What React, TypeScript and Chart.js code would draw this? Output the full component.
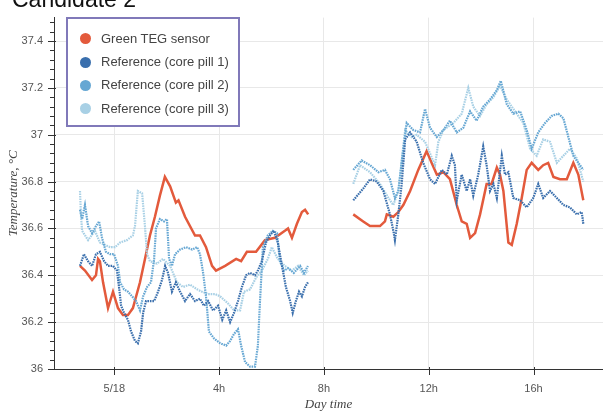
import React, { useEffect, useRef } from "react";
import { Chart, registerables } from "chart.js";

Chart.register(...registerables);

// ---- data (hours relative to 5/18 00:00, temperature °C) ----
const seriesNames = [
  "Green TEG sensor",
  "Reference (core pill 1)",
  "Reference (core pill 2)",
  "Reference (core pill 3)",
];
const seriesColors = ["#e35a3c", "#3a6fad", "#66a7d3", "#a8d0e5"];

const xTickHours = [0, 4, 8, 12, 16];
const yTickValues = [36, 36.2, 36.4, 36.6, 36.8, 37, 37.2, 37.4];

const tegSeg1: [number, number][] = [
  [-1.31, 36.44], [-1.12, 36.42], [-0.85, 36.38], [-0.7, 36.4], [-0.62, 36.47], [-0.55, 36.46],
  [-0.43, 36.37], [-0.24, 36.26], [-0.05, 36.33], [0.14, 36.26], [0.33, 36.23], [0.52, 36.23],
  [0.71, 36.26], [0.98, 36.37], [1.17, 36.47], [1.36, 36.57], [1.55, 36.65], [1.74, 36.74],
  [1.93, 36.82], [2.13, 36.78], [2.35, 36.71], [2.45, 36.72], [2.7, 36.65], [3.08, 36.57],
  [3.27, 36.57], [3.5, 36.52], [3.73, 36.44], [3.88, 36.42], [4.23, 36.44], [4.65, 36.47],
  [4.84, 36.46], [5.06, 36.5], [5.41, 36.5], [5.75, 36.55], [6.13, 36.56], [6.51, 36.59],
  [6.63, 36.6], [6.78, 36.56], [6.97, 36.62], [7.16, 36.67], [7.28, 36.68], [7.4, 36.66],
];
const tegSeg2: [number, number][] = [
  [9.12, 36.66], [9.5, 36.63], [9.76, 36.61], [10.14, 36.61], [10.33, 36.63], [10.4, 36.66],
  [10.65, 36.65], [10.84, 36.67], [11.03, 36.7], [11.29, 36.76], [11.6, 36.85], [11.92, 36.93],
  [12.11, 36.88], [12.31, 36.83], [12.56, 36.84], [12.81, 36.81], [13.07, 36.7], [13.26, 36.63],
  [13.45, 36.62], [13.58, 36.56], [13.77, 36.58], [13.96, 36.66], [14.21, 36.79], [14.4, 36.79],
  [14.6, 36.86], [14.72, 36.83], [14.85, 36.76], [15.04, 36.54], [15.17, 36.53], [15.36, 36.62],
  [15.55, 36.73], [15.74, 36.85], [15.93, 36.88], [16.18, 36.85], [16.37, 36.87], [16.56, 36.88],
  [16.76, 36.82], [17.01, 36.81], [17.27, 36.81], [17.52, 36.88], [17.71, 36.83], [17.9, 36.72],
];

const pill1Seg1: [number, number][] = [
  [-1.31, 36.44], [-1.16, 36.49], [-1.0, 36.46], [-0.85, 36.44], [-0.7, 36.49], [-0.55, 36.5],
  [-0.39, 36.46], [-0.24, 36.44], [-0.05, 36.44], [0.1, 36.42], [0.18, 36.35], [0.26, 36.27],
  [0.37, 36.24], [0.52, 36.21], [0.64, 36.16], [0.79, 36.12], [0.9, 36.11], [1.02, 36.16],
  [1.1, 36.24], [1.21, 36.29], [1.36, 36.29], [1.52, 36.29], [1.67, 36.33], [1.82, 36.38],
  [1.94, 36.44], [2.05, 36.41], [2.2, 36.33], [2.35, 36.37], [2.51, 36.33], [2.7, 36.29],
  [2.89, 36.32], [3.08, 36.29], [3.27, 36.3], [3.42, 36.27], [3.58, 36.29], [3.77, 36.25],
  [3.96, 36.27], [4.12, 36.21], [4.27, 36.25], [4.42, 36.2], [4.57, 36.24], [4.72, 36.29],
  [4.87, 36.35], [5.03, 36.4], [5.18, 36.41], [5.37, 36.4], [5.48, 36.42], [5.63, 36.46],
  [5.79, 36.54], [5.94, 36.57], [6.09, 36.59], [6.24, 36.54], [6.4, 36.44], [6.55, 36.35],
  [6.71, 36.29], [6.81, 36.24], [6.93, 36.29], [7.05, 36.33], [7.16, 36.31], [7.28, 36.35],
  [7.39, 36.37],
];
const pill1Seg2: [number, number][] = [
  [9.12, 36.72], [9.5, 36.77], [9.76, 36.81], [10.02, 36.8], [10.27, 36.76], [10.52, 36.66],
  [10.65, 36.59], [10.71, 36.55], [10.84, 36.66], [10.97, 36.79], [11.1, 36.98], [11.29, 37.01],
  [11.54, 36.97], [11.79, 36.88], [12.05, 36.81], [12.24, 36.79], [12.5, 36.85], [12.69, 36.83],
  [12.88, 36.91], [13.0, 36.87], [13.07, 36.72], [13.26, 36.83], [13.45, 36.76], [13.58, 36.81],
  [13.7, 36.74], [13.89, 36.83], [14.08, 36.95], [14.21, 36.87], [14.34, 36.76], [14.47, 36.79],
  [14.6, 36.73], [14.79, 36.91], [14.91, 36.83], [15.04, 36.84], [15.23, 36.73], [15.49, 36.72],
  [15.74, 36.69], [15.99, 36.73], [16.18, 36.79], [16.37, 36.73], [16.63, 36.76], [16.89, 36.73],
  [17.14, 36.7], [17.39, 36.69], [17.65, 36.66], [17.84, 36.67], [17.9, 36.62],
];

const pill2Seg1: [number, number][] = [
  [-1.31, 36.68], [-1.23, 36.64], [-1.12, 36.7], [-1.0, 36.61], [-0.85, 36.58], [-0.7, 36.61],
  [-0.58, 36.63], [-0.47, 36.56], [-0.32, 36.5], [-0.16, 36.49], [-0.01, 36.49], [0.14, 36.44],
  [0.22, 36.37], [0.37, 36.34], [0.52, 36.33], [0.68, 36.31], [0.83, 36.29], [0.98, 36.25],
  [1.1, 36.31], [1.25, 36.35], [1.4, 36.37], [1.52, 36.47], [1.59, 36.6], [1.74, 36.64],
  [1.9, 36.63], [2.01, 36.64], [2.09, 36.47], [2.2, 36.44], [2.32, 36.49], [2.51, 36.51],
  [2.74, 36.52], [2.97, 36.51], [3.16, 36.52], [3.27, 36.49], [3.39, 36.41], [3.5, 36.31],
  [3.61, 36.16], [3.81, 36.13], [4.04, 36.11], [4.27, 36.1], [4.42, 36.12], [4.57, 36.15],
  [4.72, 36.17], [4.84, 36.1], [4.99, 36.03], [5.18, 36.01], [5.37, 36.01], [5.48, 36.1],
  [5.56, 36.29], [5.67, 36.52], [5.86, 36.57], [6.05, 36.59], [6.21, 36.58], [6.32, 36.46],
  [6.48, 36.42], [6.63, 36.43], [6.85, 36.41], [7.09, 36.44], [7.24, 36.41], [7.39, 36.44],
];
const pill2Seg2: [number, number][] = [
  [9.12, 36.85], [9.44, 36.89], [9.76, 36.87], [10.08, 36.84], [10.33, 36.85], [10.52, 36.81],
  [10.71, 36.73], [10.84, 36.76], [11.03, 36.94], [11.16, 37.05], [11.41, 37.02], [11.67, 37.01],
  [11.86, 37.11], [12.05, 37.03], [12.31, 36.99], [12.56, 37.02], [12.81, 37.06], [13.07, 37.01],
  [13.32, 37.03], [13.58, 37.1], [13.83, 37.06], [14.08, 37.12], [14.34, 37.15], [14.6, 37.19],
  [14.75, 37.23], [14.98, 37.13], [15.23, 37.09], [15.49, 37.1], [15.74, 37.02], [15.93, 36.94],
  [16.18, 37.01], [16.44, 37.05], [16.69, 37.08], [16.95, 37.09], [17.14, 37.07], [17.33, 36.99],
  [17.52, 36.91], [17.71, 36.88], [17.9, 36.85],
];

const pill3Seg1: [number, number][] = [
  [-1.31, 36.76], [-1.27, 36.65], [-1.23, 36.59], [-1.0, 36.55], [-0.74, 36.59], [-0.55, 36.54],
  [-0.16, 36.52], [0.03, 36.52], [0.22, 36.54], [0.48, 36.55], [0.71, 36.57], [0.79, 36.61],
  [0.9, 36.76], [1.06, 36.75], [1.17, 36.61], [1.25, 36.49], [1.36, 36.46], [1.63, 36.45],
  [1.86, 36.47], [2.13, 36.44], [2.39, 36.37], [2.62, 36.35], [2.89, 36.36], [3.16, 36.34],
  [3.35, 36.33], [3.58, 36.32], [3.84, 36.32], [4.04, 36.31], [4.34, 36.28], [4.57, 36.25],
  [4.8, 36.25], [4.95, 36.33], [5.18, 36.34], [5.41, 36.39], [5.63, 36.42], [5.86, 36.47],
  [6.01, 36.52], [6.24, 36.47], [6.51, 36.44], [6.78, 36.42], [7.01, 36.44], [7.24, 36.4],
  [7.39, 36.42],
];
const pill3Seg2: [number, number][] = [
  [9.12, 36.79], [9.38, 36.87], [9.76, 36.84], [10.14, 36.79], [10.46, 36.73], [10.65, 36.7],
  [10.84, 36.76], [11.1, 37.02], [11.35, 36.99], [11.54, 37.0], [11.86, 36.97], [12.05, 36.92],
  [12.24, 36.87], [12.37, 36.97], [12.56, 37.02], [12.94, 37.05], [13.26, 37.09], [13.51, 37.2],
  [13.7, 37.12], [13.96, 37.08], [14.21, 37.13], [14.47, 37.16], [14.72, 37.21], [14.98, 37.15],
  [15.36, 37.09], [15.61, 37.05], [15.87, 36.94], [16.12, 36.91], [16.37, 36.98], [16.63, 36.97],
  [16.89, 36.88], [17.14, 36.91], [17.39, 36.94], [17.65, 36.9], [17.9, 36.8],
];

const X_MIN = -2.302;
const X_MAX = 18.652;
const Y_MIN = 36;
const Y_MAX = 37.5;

function joinSegments(a: [number, number][], b: [number, number][]) {
  const gapX = (a[a.length - 1][0] + b[0][0]) / 2;
  return [
    ...a.map(([x, y]) => ({ x, y })),
    { x: gapX, y: null as any },
    ...b.map(([x, y]) => ({ x, y })),
  ];
}

const axisTickPlugin = {
  id: "axisTicks",
  afterDraw(chart: any) {
    const { ctx, chartArea, scales } = chart;
    const ys = scales.y;
    const xs = scales.x;
    ctx.save();
    ctx.strokeStyle = "#333";
    ctx.lineWidth = 1;
    // y ticks: major every 0.2, minor every 0.04
    for (let i = 0; i <= 40; i++) {
      const v = Y_MIN + i * 0.04;
      if (v > Y_MAX + 1e-9) break;
      const py = Math.round(ys.getPixelForValue(v)) + 0.5;
      const major = i % 5 === 0;
      ctx.beginPath();
      ctx.moveTo(chartArea.left - (major ? 6 : 4), py);
      ctx.lineTo(chartArea.left + (major ? 2 : 0), py);
      ctx.stroke();
    }
    for (const h of xTickHours) {
      const px = Math.round(xs.getPixelForValue(h)) + 0.5;
      ctx.beginPath();
      ctx.moveTo(px, chartArea.bottom - 2);
      ctx.lineTo(px, chartArea.bottom + 6);
      ctx.stroke();
    }
    ctx.restore();
  },
};

export default function App() {
  const canvasRef = useRef<HTMLCanvasElement | null>(null);

  useEffect(() => {
    if (!canvasRef.current) return;
    const segs = [
      [tegSeg1, tegSeg2],
      [pill1Seg1, pill1Seg2],
      [pill2Seg1, pill2Seg2],
      [pill3Seg1, pill3Seg2],
    ];
    const orders = [4, 1, 2, 3];
    const datasets = segs.map((s, i) => ({
      label: seriesNames[i],
      data: joinSegments(s[0] as any, s[1] as any),
      borderColor: seriesColors[i],
      backgroundColor: seriesColors[i],
      borderWidth: i === 0 ? 2.5 : 2.2,
      borderDash: i === 0 ? [] : [1.6, 0.9],
      pointRadius: 0,
      tension: 0,
      spanGaps: false,
      order: orders[i],
    }));

    const chart = new Chart(canvasRef.current, {
      type: "line",
      data: { datasets: datasets as any },
      plugins: [axisTickPlugin],
      options: {
        animation: false,
        responsive: false,
        devicePixelRatio: 1,
        layout: { padding: { top: 8, right: 0, left: 0, bottom: 0 } },
        plugins: {
          legend: { display: false },
          tooltip: { enabled: false },
          title: { display: false },
        },
        scales: {
          x: {
            type: "linear",
            min: X_MIN,
            max: X_MAX,
            afterBuildTicks: (axis: any) => {
              axis.ticks = xTickHours.map((v) => ({ value: v }));
            },
            afterFit: (axis: any) => {
              axis.height = 44;
            },
            ticks: {
              callback: (v: any) => (Number(v) === 0 ? "5/18" : `${v}h`),
              font: { family: "'Liberation Sans', Arial, sans-serif", size: 11 },
              color: "#555",
              padding: 13,
              maxRotation: 0,
            },
            grid: { color: "#e8e8e8", drawTicks: false },
            border: { display: true, color: "#333", width: 1 },
            title: {
              display: true,
              text: "Day time",
              font: { family: "'Liberation Serif', 'Times New Roman', serif", size: 13, style: "italic" },
              color: "#444",
              padding: { top: 0, bottom: 1 },
            },
          },
          y: {
            type: "linear",
            min: Y_MIN,
            max: Y_MAX,
            afterBuildTicks: (axis: any) => {
              axis.ticks = yTickValues.map((v) => ({ value: v }));
            },
            afterFit: (axis: any) => {
              axis.width = 54;
            },
            ticks: {
              callback: (v: any) => String(Number(Number(v).toFixed(1))),
              font: { family: "'Liberation Sans', Arial, sans-serif", size: 11 },
              color: "#555",
              padding: 11,
            },
            grid: { color: "#e8e8e8", drawTicks: false },
            border: { display: true, color: "#333", width: 1 },
            title: {
              display: true,
              text: "Temperature, °C",
              font: { family: "'Liberation Serif', 'Times New Roman', serif", size: 13, style: "italic" },
              color: "#444",
              padding: { top: 6, bottom: 0 },
            },
          },
        },
      },
    });
    return () => chart.destroy();
  }, []);

  const rowCenters = [38.5, 62, 85.3, 108.5];

  return (
    <div style={{ position: "absolute", left: 0, top: 0, width: 603, height: 413, overflow: "hidden" }}>
      <canvas ref={canvasRef} width={603} height={413} style={{ display: "block", width: 603, height: 413 }} />
      <div
        style={{
          position: "absolute",
          left: 12,
          top: -12,
          fontFamily: "'Liberation Sans', Arial, sans-serif",
          fontSize: 23,
          lineHeight: "22px",
          color: "#111",
          whiteSpace: "nowrap",
        }}
      >
        Candidate 2
      </div>
      <div
        style={{
          position: "absolute",
          left: 66,
          top: 17,
          width: 174,
          height: 110,
          boxSizing: "border-box",
          border: "2px solid #8079b9",
          background: "#ffffff",
        }}
      >
        {seriesNames.map((name, i) => (
          <div
            key={name}
            style={{
              position: "absolute",
              left: 0,
              top: rowCenters[i] - 17 - 2 - 8,
              height: 16,
              width: 170,
            }}
          >
            <span
              style={{
                position: "absolute",
                left: 12,
                top: 2.5,
                width: 11,
                height: 11,
                borderRadius: "50%",
                background: seriesColors[i],
              }}
            />
            <span
              style={{
                position: "absolute",
                left: 33,
                top: 0,
                lineHeight: "16px",
                fontFamily: "'Liberation Sans', Arial, sans-serif",
                fontSize: 13,
                color: "#444",
                whiteSpace: "nowrap",
              }}
            >
              {name}
            </span>
          </div>
        ))}
      </div>
    </div>
  );
}
